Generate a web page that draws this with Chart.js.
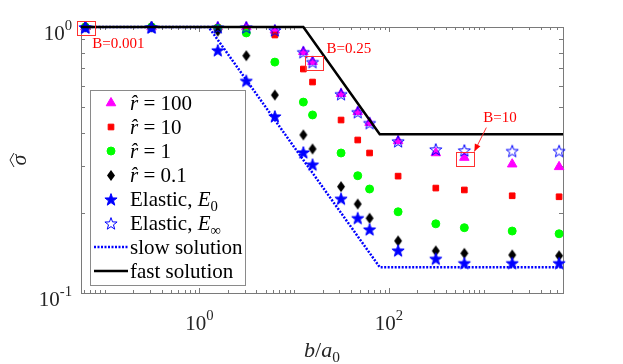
<!DOCTYPE html>
<html>
<head>
<meta charset="utf-8">
<script src="https://cdn.jsdelivr.net/npm/chart.js@4.4.0/dist/chart.umd.min.js"></script>
<style>
    html, body { margin: 0; padding: 0; background: #fff; }
    #wrap { width: 623px; height: 364px; }
</style>
</head>
<body>
<div id="wrap"><canvas id="sigmaChart" width="623" height="364"></canvas></div>
<script>
// b/a0 positions of the simulated cases
const bOverA0 = [0.0625, 0.3125, 1.5625, 3.125, 6.25, 12.5, 15.625, 31.25, 46.875, 62.5, 125, 312.5, 625, 2000, 6250];

// normalised sigma
const rHat100    = [1, 1, 1, 1, 0.972, 0.807, 0.741, 0.561, 0.480, 0.437, 0.373, 0.336, 0.323, 0.305, 0.298];
const rHat10     = [1, 1, 0.995, 0.975, 0.933, 0.695, 0.621, 0.447, 0.376, 0.336, 0.275, 0.248, 0.244, 0.232, 0.230];
const rHat1      = [1, 1, 0.99, 0.95, 0.738, 0.522, 0.467, 0.336, 0.276, 0.246, 0.202, 0.182, 0.176, 0.171, 0.167];
const rHat01     = [1, 1, 0.965, 0.78, 0.555, 0.393, 0.348, 0.251, 0.216, 0.191, 0.157, 0.144, 0.141, 0.139, 0.138];
const elasticE0  = [1, 1, 0.82, 0.63, 0.463, 0.339, 0.305, 0.227, 0.192, 0.174, 0.145, 0.135, 0.130, 0.130, 0.130];
const elasticEinf = [1, 1, 1, 1, 0.975, 0.807, 0.741, 0.561, 0.480, 0.437, 0.373, 0.348, 0.345, 0.343, 0.343];

// asymptotic solutions
const slowX = [0.05625, 1.25, 80, 6875];
const slowY = [1, 1, 0.125, 0.125];
const fastX = [0.05625, 12.5, 80, 6875];
const fastY = [1, 1, 0.395, 0.395];

// axes
const xRange = [0.05625, 6875];
const yRange = [0.1, 1];
const xTickValues = [1, 100];
const xTickLabels = [['10', '0'], ['10', '2']];
const yTickValues = [0.1, 1];
const yTickLabels = [['10', '-1'], ['10', '0']];

// red call-outs
const noteLabels = ['B=0.001', 'B=0.25', 'B=10'];
const noteX = [0.0625, 15.625, 625];
const noteY = [1, 0.741, 0.323];

const SERIF = '"Liberation Serif", "Times New Roman", serif';

function makeStar(R, r, fill, stroke, lw) {
    const size = Math.ceil(2 * R + lw + 2);
    const c = document.createElement('canvas');
    c.width = c.height = size;
    const g = c.getContext('2d');
    g.beginPath();
    for (let i = 0; i < 10; i++) {
        const rad = i % 2 ? r : R;
        const a = -Math.PI / 2 + i * Math.PI / 5;
        g.lineTo(size / 2 + rad * Math.cos(a), size / 2 + 1 + rad * Math.sin(a));
    }
    g.closePath();
    if (fill) { g.fillStyle = fill; g.fill(); }
    g.strokeStyle = stroke;
    g.lineWidth = lw;
    g.stroke();
    return c;
}

function makeDiamond(w, h, color) {
    const c = document.createElement('canvas');
    c.width = w + 2; c.height = h + 2;
    const g = c.getContext('2d');
    g.beginPath();
    g.moveTo(c.width / 2, 1);
    g.lineTo(c.width - 1, c.height / 2);
    g.lineTo(c.width / 2, c.height - 1);
    g.lineTo(1, c.height / 2);
    g.closePath();
    g.fillStyle = color;
    g.fill();
    return c;
}

const starFilled = makeStar(6.4, 2.6, '#0000ff', '#0000ff', 1);
const starOpen = makeStar(6.4, 2.6, null, '#0000ff', 1);
const diamond = makeDiamond(8, 11, '#000000');

function pts(xs, ys) {
    return xs.map((x, i) => ({x: x, y: ys[i]}));
}

// text with italic / sub / superscript parts
function drawRich(ctx, parts, x, y, size, align) {
    let w = 0;
    const items = parts.map(function(p) {
        const kind = p[1];
        const small = kind === 'sub' || kind === 'sup';
        const s = small ? size * 0.7 : size;
        ctx.font = (kind === 'i' ? 'italic ' : '') + s + 'px ' + SERIF;
        const item = {t: p[0], font: ctx.font, dx: w, dy: kind === 'sub' ? size * 0.22 : kind === 'sup' ? -size * 0.48 : 0};
        w += ctx.measureText(p[0]).width;
        return item;
    });
    const x0 = align === 'right' ? x - w : align === 'center' ? x - w / 2 : x;
    ctx.textAlign = 'left';
    ctx.textBaseline = 'alphabetic';
    items.forEach(function(it) {
        ctx.font = it.font;
        ctx.fillText(it.t, x0 + it.dx, y + it.dy);
    });
}

const framePlugin = {
    id: 'matlabFrame',
    beforeDatasetsDraw(chart) {
        const {ctx, chartArea: a, scales} = chart;
        const xs = scales.x, ys = scales.y;
        ctx.save();
        ctx.strokeStyle = '#7a7a7a';
        ctx.lineWidth = 1;
        ctx.beginPath();
        // x ticks (inward, bottom and top)
        for (let e = -2; e <= 4; e++) {
            for (let m = 1; m <= 9; m++) {
                const v = m * Math.pow(10, e);
                if (v <= xRange[0] || v >= xRange[1]) continue;
                const len = xTickValues.indexOf(v) >= 0 ? 5 : 3;
                const px = Math.round(xs.getPixelForValue(v)) + 0.5;
                ctx.moveTo(px, a.bottom); ctx.lineTo(px, a.bottom - len);
                ctx.moveTo(px, a.top); ctx.lineTo(px, a.top + len);
            }
        }
        // y ticks (inward, left and right)
        for (let m = 2; m <= 9; m++) {
            const py = Math.round(ys.getPixelForValue(m / 10)) + 0.5;
            ctx.moveTo(a.left, py); ctx.lineTo(a.left + 4, py);
            ctx.moveTo(a.right, py); ctx.lineTo(a.right - 4, py);
        }
        ctx.stroke();
        ctx.strokeRect(a.left + 0.5, a.top + 0.5, a.right - a.left, a.bottom - a.top);
        ctx.restore();
    },
    afterDraw(chart) {
        const {ctx, chartArea: a, scales} = chart;
        const xs = scales.x, ys = scales.y;
        ctx.save();

        // tick labels
        ctx.fillStyle = '#262626';
        xTickValues.forEach(function(v, i) {
            drawRich(ctx, [[xTickLabels[i][0], 'n'], [xTickLabels[i][1], 'sup']], xs.getPixelForValue(v), 330, 21, 'center');
        });
        yTickValues.forEach(function(v, i) {
            drawRich(ctx, [[yTickLabels[i][0], 'n'], [yTickLabels[i][1], 'sup']], 72, ys.getPixelForValue(v) + 13, 21, 'right');
        });

        // axis titles
        drawRich(ctx, [['b', 'i'], ['/', 'n'], ['a', 'i'], ['0', 'sub']], (a.left + a.right) / 2, 357, 22, 'center');
        ctx.save();
        ctx.translate(26, (a.top + a.bottom) / 2);
        ctx.rotate(-Math.PI / 2);
        ctx.font = 'italic 22px ' + SERIF;
        ctx.textAlign = 'center';
        ctx.textBaseline = 'alphabetic';
        ctx.fillText('σ', 0, 0);
        ctx.strokeStyle = '#262626';
        ctx.lineWidth = 1;
        ctx.beginPath();
        ctx.moveTo(-7, -12); ctx.lineTo(0, -16); ctx.lineTo(7, -12);
        ctx.stroke();
        ctx.restore();

        // legend box
        const lx = 90, ly = 90, lw = 155, lh = 195;
        ctx.fillStyle = '#ffffff';
        ctx.fillRect(lx, ly, lw, lh);
        ctx.strokeStyle = '#8a8a8a';
        ctx.lineWidth = 1;
        ctx.strokeRect(lx + 0.5, ly + 0.5, lw, lh);
        chart.data.datasets.forEach(function(ds, i) {
            const cy = 103 + i * 24;
            if (ds.showLine) {
                ctx.save();
                ctx.strokeStyle = ds.borderColor;
                ctx.lineWidth = ds.borderWidth;
                ctx.setLineDash(ds.borderDash || []);
                ctx.beginPath();
                ctx.moveTo(94, cy); ctx.lineTo(128, cy);
                ctx.stroke();
                ctx.restore();
            } else if (ds.pointStyle instanceof HTMLCanvasElement) {
                const img = ds.pointStyle;
                ctx.drawImage(img, Math.round(111 - img.width / 2), Math.round(cy - img.height / 2));
            } else {
                ctx.save();
                ctx.fillStyle = ds.backgroundColor;
                ctx.strokeStyle = ds.borderColor;
                ctx.lineWidth = ds.borderWidth;
                Chart.helpers.drawPoint(ctx, {pointStyle: ds.pointStyle, radius: ds.pointRadius, rotation: 0, borderWidth: ds.borderWidth}, 111, cy);
                ctx.restore();
            }
            ctx.fillStyle = '#000000';
            drawRich(ctx, ds.richLabel, 130, cy + 7, 21, 'left');
        });

        // red call-outs
        const textOffsets = [[7, 21], [14, -9], [19, -36]];
        ctx.strokeStyle = '#ff3030';
        ctx.fillStyle = '#ff0000';
        ctx.lineWidth = 1;
        noteLabels.forEach(function(label, i) {
            const px = xs.getPixelForValue(noteX[i]);
            const py = ys.getPixelForValue(noteY[i]);
            ctx.strokeRect(Math.round(px - 8) + 0.5, Math.round(py - 6) + 0.5, 18, 14);
            ctx.font = '15px ' + SERIF;
            ctx.textAlign = 'left';
            ctx.textBaseline = 'alphabetic';
            ctx.fillText(label, px + textOffsets[i][0], py + textOffsets[i][1]);
            if (label === 'B=10') {
                const x1 = px + 22, y1 = py - 30, x2 = px + 10, y2 = py - 6;
                const ang = Math.atan2(y2 - y1, x2 - x1);
                ctx.beginPath();
                ctx.moveTo(x1, y1); ctx.lineTo(x2, y2);
                ctx.stroke();
                ctx.beginPath();
                ctx.moveTo(x2, y2);
                ctx.lineTo(x2 - 8 * Math.cos(ang - 0.4), y2 - 8 * Math.sin(ang - 0.4));
                ctx.lineTo(x2 - 8 * Math.cos(ang + 0.4), y2 - 8 * Math.sin(ang + 0.4));
                ctx.closePath();
                ctx.fill();
            }
        });
        ctx.restore();
    }
};

const datasets = [
    {
        richLabel: [['r\u0302', 'i'], [' = 100', 'n']],
        data: pts(bOverA0, rHat100),
        pointStyle: 'triangle', pointRadius: 5.5,
        backgroundColor: '#ff00ff', borderColor: '#ff00ff', borderWidth: 1,
        order: 8
    },
    {
        richLabel: [['r\u0302', 'i'], [' = 10', 'n']],
        data: pts(bOverA0, rHat10),
        pointStyle: 'rect', pointRadius: 4,
        backgroundColor: '#ff0000', borderColor: '#ff0000', borderWidth: 1,
        order: 7
    },
    {
        richLabel: [['r\u0302', 'i'], [' = 1', 'n']],
        data: pts(bOverA0, rHat1),
        pointStyle: 'circle', pointRadius: 4,
        backgroundColor: '#00ff00', borderColor: '#00ff00', borderWidth: 1,
        order: 6
    },
    {
        richLabel: [['r\u0302', 'i'], [' = 0.1', 'n']],
        data: pts(bOverA0, rHat01),
        pointStyle: diamond, pointRadius: 5,
        backgroundColor: '#000000', borderColor: '#000000', borderWidth: 0,
        order: 5
    },
    {
        richLabel: [['Elastic, ', 'n'], ['E', 'i'], ['0', 'sub']],
        data: pts(bOverA0, elasticE0),
        pointStyle: starFilled, pointRadius: 6,
        backgroundColor: '#0000ff', borderColor: '#0000ff', borderWidth: 0,
        order: 4
    },
    {
        richLabel: [['Elastic, ', 'n'], ['E', 'i'], ['\u221e', 'sub']],
        data: pts(bOverA0, elasticEinf),
        pointStyle: starOpen, pointRadius: 6,
        backgroundColor: '#0000ff', borderColor: '#0000ff', borderWidth: 0,
        order: 3
    },
    {
        richLabel: [['slow solution', 'n']],
        data: pts(slowX, slowY),
        showLine: true, pointRadius: 0,
        borderColor: '#0000ff', borderWidth: 2.5, borderDash: [2, 1.5],
        order: 2
    },
    {
        richLabel: [['fast solution', 'n']],
        data: pts(fastX, fastY),
        showLine: true, pointRadius: 0,
        borderColor: '#000000', borderWidth: 2.5,
        order: 1
    }
];
datasets.forEach(function(ds) { ds.clip = false; });

new Chart(document.getElementById('sigmaChart'), {
    type: 'scatter',
    data: {datasets: datasets},
    options: {
        responsive: false,
        animation: false,
        events: [],
        layout: {padding: {left: 81, right: 60, top: 27, bottom: 71}},
        scales: {
            x: {type: 'logarithmic', min: xRange[0], max: xRange[1], display: false},
            y: {type: 'logarithmic', min: yRange[0], max: yRange[1], display: false}
        },
        plugins: {
            legend: {display: false},
            tooltip: {enabled: false}
        }
    },
    plugins: [framePlugin]
});
</script>
</body>
</html>
